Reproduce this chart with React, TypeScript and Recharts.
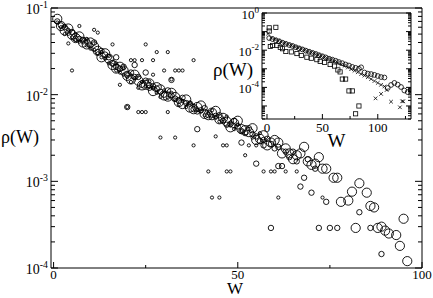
import React from 'react';
import { ScatterChart, Scatter, XAxis, YAxis, CartesianGrid } from 'recharts';

const FONT = 'Liberation Serif, Times New Roman, Times, serif';

// ---------- main chart ticks ----------
const mainXTicks = [0, 25, 50, 75, 100];
const mainXLabels = [0, 50, 100];
const mainYDecades = [-4, -3, -2, -1];

// ---------- inset ticks ----------
const insetXTicks = [0, 25, 50, 75, 100, 125];
const insetXLabels = [0, 50, 100];
const insetYDecades = [-6, -5, -4, -3, -2, -1, 0];
const insetYLabels = [0, -2, -4];

// ---------- main data: [W, rho] ----------
const smallPts: [number, number][] = [
  [1, 0.068], [2, 0.06], [3, 0.05], [4, 0.056], [5, 0.046], [6, 0.05], [7, 0.041], [8, 0.04],
  [9, 0.044], [10, 0.034], [11, 0.033], [12, 0.03], [13, 0.031], [14, 0.026], [15, 0.023],
  [16, 0.022], [17, 0.023], [18, 0.018], [19, 0.017], [20, 0.016], [22, 0.0155], [23, 0.012],
  [25, 0.0125], [26, 0.0142], [28, 0.0105], [30, 0.0112], [31, 0.0092], [33, 0.0088],
  [35, 0.0084], [36, 0.0072], [38, 0.0075], [40, 0.0064], [42, 0.0061], [44, 0.0054],
  [46, 0.0052], [48, 0.0044], [50, 0.0045],
  [3, 0.062], [6, 0.043], [9, 0.037], [13, 0.027], [15, 0.028], [17, 0.019], [19, 0.02],
  [21, 0.014], [24, 0.014], [27, 0.0118], [29, 0.0094], [32, 0.0105], [34, 0.0077],
  [37, 0.008], [39, 0.0068], [41, 0.0058], [43, 0.0066], [45, 0.0049], [47, 0.0056],
  [49, 0.004], [51, 0.0038], [54, 0.0032], [56, 0.0036],
  [4, 0.039], [5, 0.019], [7, 0.062], [11, 0.056], [12, 0.052], [16, 0.038], [21, 0.025],
  [22, 0.025], [24, 0.025], [27, 0.025], [25, 0.038], [28, 0.031], [31, 0.031], [38, 0.025],
  [18, 0.013], [20, 0.0072], [23, 0.0063], [24, 0.0063], [25, 0.0063], [31, 0.0063],
  [27, 0.017], [32, 0.015], [30, 0.019], [33, 0.019], [34, 0.019], [35, 0.019],
  [29, 0.0032], [33, 0.0032], [38, 0.0026], [42, 0.0013], [43, 0.00065], [45, 0.00065],
  [44, 0.0033], [47, 0.0026], [46, 0.0026], [47, 0.0013], [48, 0.0013], [52, 0.002],
  [53, 0.0026], [55, 0.0026], [57, 0.0013], [59, 0.0013], [60, 0.0013], [61, 0.00065],
  [63, 0.0013], [66, 0.0013], [73, 0.00065],
];

const mediumPts: [number, number][] = [
  [2, 0.063], [4, 0.052], [6, 0.044], [8, 0.043], [10, 0.037], [12, 0.031], [14, 0.029],
  [16, 0.023], [18, 0.02], [20, 0.017], [22, 0.016], [24, 0.013], [26, 0.0128], [28, 0.0118],
  [30, 0.01], [32, 0.0098], [34, 0.0085], [36, 0.008], [38, 0.0068], [40, 0.0066],
  [42, 0.0058], [44, 0.0057], [46, 0.005], [48, 0.0046], [50, 0.0043], [52, 0.0036],
  [54, 0.0035], [56, 0.0029], [58, 0.0031], [60, 0.0024], [63, 0.0022], [66, 0.0017],
  [1, 0.07], [3, 0.06], [5, 0.053], [7, 0.044], [9, 0.042], [11, 0.04], [13, 0.032],
  [15, 0.027], [17, 0.021], [19, 0.021], [21, 0.018], [23, 0.016], [25, 0.0145],
  [27, 0.0125], [29, 0.0108], [31, 0.0112], [33, 0.009], [35, 0.0092], [37, 0.0079],
  [39, 0.0064], [41, 0.007], [43, 0.0055], [45, 0.0058], [47, 0.0045], [49, 0.005],
  [51, 0.0038], [53, 0.0041], [55, 0.0033], [57, 0.003], [59, 0.0027], [61, 0.0025],
  [64, 0.0019], [65, 0.0022], [69, 0.0018], [71, 0.0014],
  [17, 0.027], [22, 0.022], [20, 0.0072], [32, 0.0148], [39, 0.004], [51, 0.0028],
  [55, 0.0016], [57, 0.0026], [59, 0.00029], [61, 0.0015], [62, 0.0015], [67, 0.00087],
  [68, 0.0011], [70, 0.00074], [72, 0.00029], [74, 0.00058], [75, 0.00029], [77, 0.00029],
  [83, 0.00044], [86, 0.00029], [89, 0.000145], [25, 0.018], [26, 0.012],
];

const largePts: [number, number][] = [
  [1, 0.075], [3, 0.055], [5, 0.049], [7, 0.047], [9, 0.038], [11, 0.036], [13, 0.027],
  [15, 0.026], [17, 0.02], [19, 0.019], [21, 0.015], [23, 0.0145], [25, 0.013], [27, 0.011],
  [29, 0.0115], [31, 0.0095], [33, 0.0094], [35, 0.0078], [37, 0.0071], [39, 0.0072],
  [41, 0.006], [43, 0.0062], [45, 0.0052], [47, 0.0049], [49, 0.0047], [51, 0.004],
  [53, 0.0037], [55, 0.003], [57, 0.0034],
  [2, 0.062], [4, 0.058], [6, 0.045], [8, 0.04], [10, 0.04], [12, 0.032], [14, 0.03],
  [16, 0.022], [18, 0.021], [20, 0.0165], [22, 0.017], [24, 0.0128], [26, 0.0135],
  [28, 0.0122], [30, 0.0098], [32, 0.0105], [34, 0.0082], [36, 0.0088], [38, 0.0068],
  [40, 0.0075], [42, 0.0058], [44, 0.0065], [46, 0.0054], [48, 0.0042], [50, 0.005],
  [52, 0.0039], [54, 0.0041], [56, 0.0031], [58, 0.0026], [60, 0.003], [63, 0.0024],
  [67, 0.0021], [71, 0.0016],
  [59, 0.0028], [61, 0.0028], [62, 0.0021], [64, 0.0021], [65, 0.0018], [66, 0.002],
  [68, 0.0025], [69, 0.0017], [70, 0.00155], [72, 0.0019], [73, 0.0014], [74, 0.0014],
  [76, 0.0011], [77, 0.0011], [78, 0.00058], [80, 0.0006], [81, 0.00076], [82, 0.00029],
  [83, 0.00095], [85, 0.00074], [86, 0.00052], [87, 0.0005], [88, 0.00029], [89, 0.0003],
  [90, 0.00027], [91, 0.00025], [93, 0.00024], [94, 0.00018], [95, 0.00037], [96, 0.00012],
];

// ---------- inset data: [W, rho] ----------
const insetCircles: [number, number][] = [
  [2, 0.0447], [5, 0.0398], [8, 0.0339], [11, 0.0302], [14, 0.0251], [17, 0.0219],
  [20, 0.0191], [23, 0.017], [26, 0.0145], [29, 0.0126], [32, 0.011], [35, 0.0095],
  [38, 0.0083], [41, 0.0072], [44, 0.0063], [47, 0.0054], [50, 0.0047], [53, 0.0041],
  [56, 0.0035], [59, 0.0031], [62, 0.0027], [65, 0.0023], [68, 0.002], [71, 0.0017],
  [74, 0.0015], [77, 0.00126], [80, 0.00112], [83, 0.001], [85, 0.0012], [88, 0.00063],
  [91, 0.00055], [94, 0.00052], [97, 0.00047], [100, 0.00041], [103, 0.00036],
  [106, 0.00034], [109, 0.000093], [112, 0.000135], [115, 0.000174], [118, 0.000141],
  [121, 0.000105], [124, 0.000068], [127, 0.000056], [130, 0.000072],
];

const insetCrosses: [number, number][] = [
  [1, 0.078], [4, 0.045], [7, 0.038], [10, 0.0316], [13, 0.0275], [16, 0.0234],
  [19, 0.0204], [22, 0.0178], [25, 0.0151], [28, 0.0132], [31, 0.0115], [34, 0.01],
  [37, 0.0085], [40, 0.0074], [43, 0.0065], [46, 0.0055], [49, 0.0048], [52, 0.0041],
  [55, 0.0035], [58, 0.003], [61, 0.0025], [64, 0.0021], [67, 0.0017], [70, 0.00145],
  [73, 0.00117], [76, 0.00095], [79, 0.00079], [82, 0.00065], [85, 0.00052], [88, 0.00043],
  [91, 0.00035], [94, 0.00028], [97, 0.00022], [100, 0.000174], [103, 0.000138],
  [106, 0.000112], [98, 0.0000257], [103, 0.0000447], [108, 0.0000724], [112, 0.000017],
  [120, 0.0000085], [122, 0.0000178], [123, 0.0000178],
];

const insetSquares: [number, number][] = [
  [2, 0.16], [2, 0.107], [8, 0.17], [3, 0.0158], [5, 0.018], [9, 0.018], [12, 0.0141],
  [14, 0.012], [17, 0.0085], [22, 0.0081], [27, 0.0066], [31, 0.0052], [36, 0.0042],
  [40, 0.0037], [45, 0.0031], [48, 0.0025], [52, 0.0022], [57, 0.0017], [61, 0.0014],
  [64, 0.00087], [66, 0.00068], [68, 0.00028], [71, 0.00028], [74, 0.0000646],
  [77, 0.0000646], [80, 0.0000038], [83, 0.00001],
];

const toData = (pts: [number, number][]) => pts.map(([w, rho]) => ({ w, rho }));

const logTicks = (decades: number[], min: number, max: number) => {
  const out: number[] = [];
  decades.forEach((d) => {
    for (let m = 1; m <= 9; m++) {
      const v = m * Math.pow(10, d);
      if (v >= min * 0.999 && v <= max * 1.001) out.push(v);
    }
  });
  return out;
};

const isDecade = (v: number) => {
  const l = Math.log10(v);
  return Math.abs(l - Math.round(l)) < 1e-6;
};

const MAIN_YMIN = 1e-4;
const MAIN_YMAX = 1e-1;
const INSET_YMIN = Math.pow(10, -5.7);
const INSET_YMAX = 1;

const mainYTicks = logTicks(mainYDecades, MAIN_YMIN, MAIN_YMAX);
const insetYTicks = logTicks(insetYDecades, INSET_YMIN, INSET_YMAX);

const STROKE = '#000';

// ---------- tick renderers ----------
const makeXTick = (labels: number[], side: 'bottom' | 'top', fs: number, maj: number, min: number, dyLabel: number) =>
  (props: any) => {
    const { x, y, payload } = props;
    const v = payload.value;
    const major = labels.includes(v);
    const len = major ? maj : min;
    const y2 = side === 'bottom' ? y - len : y + len;
    return (
      <g>
        <line x1={x} y1={y} x2={x} y2={y2} stroke={STROKE} strokeWidth={1} />
        {side === 'bottom' && major && (
          <text x={x} y={y + dyLabel} textAnchor="middle" fontFamily={FONT} style={{ fontFamily: FONT }} fontSize={fs} fill="#000">
            {v}
          </text>
        )}
      </g>
    );
  };

const makeYTick = (labels: number[] | null, side: 'left' | 'right', fs: number, maj: number, min: number) =>
  (props: any) => {
    const { x, y, payload } = props;
    const v = payload.value;
    const major = isDecade(v);
    const len = major ? maj : min;
    const x2 = side === 'left' ? x + len : x - len;
    const exp = Math.round(Math.log10(v));
    const showLabel = side === 'left' && major && (labels === null || labels.includes(exp));
    return (
      <g>
        <line x1={x} y1={y} x2={x2} y2={y} stroke={STROKE} strokeWidth={1} />
        {showLabel && (
          <text x={x - 3} y={y + 6} textAnchor="end" fontFamily={FONT} style={{ fontFamily: FONT }} fontSize={fs} fill="#000">
            <tspan>10</tspan>
            <tspan dy={-6} fontSize={fs * 0.7}>{String(exp)}</tspan>
          </text>
        )}
      </g>
    );
  };

const circleShape = (r: number, sw: number) => (props: any) => (
  <circle cx={props.cx} cy={props.cy} r={r} fill="none" stroke={STROKE} strokeWidth={sw} />
);

const squareShape = (s: number) => (props: any) => (
  <rect x={props.cx - s / 2} y={props.cy - s / 2} width={s} height={s} fill="none" stroke={STROKE} strokeWidth={0.8} />
);

const crossShape = (s: number) => (props: any) => (
  <path
    d={`M${props.cx - s / 2},${props.cy - s / 2}L${props.cx + s / 2},${props.cy + s / 2}M${props.cx - s / 2},${props.cy + s / 2}L${props.cx + s / 2},${props.cy - s / 2}`}
    fill="none"
    stroke={STROKE}
    strokeWidth={0.8}
  />
);

const axisCommon = {
  tickLine: false,
  tickSize: 0,
  tickMargin: 0,
  interval: 0 as const,
  axisLine: { stroke: STROKE, strokeWidth: 1 },
  allowDataOverflow: true,
};

function MainChart() {
  const xDomain: [number, number] = [-0.7, 100];
  const yDomain: [number, number] = [MAIN_YMIN, MAIN_YMAX];
  return (
    <ScatterChart width={433} height={298} margin={{ top: 0, right: 0, bottom: 0, left: 0 }}>
      <XAxis
        {...axisCommon}
        xAxisId={0}
        dataKey="w"
        type="number"
        domain={xDomain}
        ticks={mainXTicks}
        height={30}
        orientation="bottom"
        tick={makeXTick(mainXLabels, 'bottom', 13, 6, 3, 11)}
      />
      <XAxis
        {...axisCommon}
        xAxisId="top"
        type="number"
        domain={xDomain}
        ticks={mainXTicks}
        height={8}
        orientation="top"
        tick={makeXTick(mainXLabels, 'top', 13, 6, 3, 11)}
      />
      <YAxis
        {...axisCommon}
        yAxisId={0}
        dataKey="rho"
        type="number"
        scale="log"
        domain={yDomain}
        ticks={mainYTicks}
        width={51}
        orientation="left"
        tick={makeYTick(null, 'left', 14, 7, 4)}
      />
      <YAxis
        {...axisCommon}
        yAxisId="right"
        type="number"
        scale="log"
        domain={yDomain}
        ticks={mainYTicks}
        width={11}
        orientation="right"
        tick={makeYTick(null, 'right', 14, 7, 4)}
      />
      <Scatter data={toData(smallPts)} shape={circleShape(1.6, 0.9)} isAnimationActive={false} />
      <Scatter data={toData(mediumPts)} shape={circleShape(2.7, 0.9)} isAnimationActive={false} />
      <Scatter data={toData(largePts)} shape={circleShape(4.6, 0.9)} isAnimationActive={false} />
      <text x={20} y={143} textAnchor="middle" fontFamily={FONT} style={{ fontFamily: FONT }} fontSize={18} fill="#000">ρ(W)</text>
      <text x={235} y={294} textAnchor="middle" fontFamily={FONT} style={{ fontFamily: FONT }} fontSize={17} fill="#000">W</text>
    </ScatterChart>
  );
}

function InsetChart() {
  const xDomain: [number, number] = [-4.5, 130];
  const yDomain: [number, number] = [INSET_YMIN, INSET_YMAX];
  return (
    <ScatterChart width={233} height={155} margin={{ top: 0, right: 0, bottom: 0, left: 0 }}>
      <CartesianGrid fill="#fff" stroke="none" horizontal={false} vertical={false} />
      <XAxis
        {...axisCommon}
        xAxisId={0}
        dataKey="w"
        type="number"
        domain={xDomain}
        ticks={insetXTicks}
        height={36}
        orientation="bottom"
        tick={makeXTick(insetXLabels, 'bottom', 13, 5, 3, 13)}
      />
      <XAxis
        {...axisCommon}
        xAxisId="top"
        type="number"
        domain={xDomain}
        ticks={insetXTicks}
        height={13}
        orientation="top"
        tick={makeXTick(insetXLabels, 'top', 13, 5, 3, 13)}
      />
      <YAxis
        {...axisCommon}
        yAxisId={0}
        dataKey="rho"
        type="number"
        scale="log"
        domain={yDomain}
        ticks={insetYTicks}
        width={62}
        orientation="left"
        tick={makeYTick(insetYLabels, 'left', 13, 5, 3)}
      />
      <YAxis
        {...axisCommon}
        yAxisId="right"
        type="number"
        scale="log"
        domain={yDomain}
        ticks={insetYTicks}
        width={22}
        orientation="right"
        tick={makeYTick(insetYLabels, 'right', 13, 5, 3)}
      />
      <Scatter data={toData(insetSquares)} shape={squareShape(4.2)} isAnimationActive={false} />
      <Scatter data={toData(insetCrosses)} shape={crossShape(3.6)} isAnimationActive={false} />
      <Scatter data={toData(insetCircles)} shape={circleShape(2.4, 0.8)} isAnimationActive={false} />
      <text x={33} y={76} textAnchor="middle" fontFamily={FONT} style={{ fontFamily: FONT }} fontSize={19} fill="#000">ρ(W)</text>
      <text x={136.5} y={147} textAnchor="middle" fontFamily={FONT} style={{ fontFamily: FONT }} fontSize={19} fill="#000">W</text>
    </ScatterChart>
  );
}

export default function App() {
  return (
    <div style={{ position: 'absolute', left: 0, top: 0, width: 433, height: 298, background: '#fff', overflow: 'hidden', fontFamily: FONT }}>
      <div style={{ position: 'absolute', left: 0, top: 0 }}>
        <MainChart />
      </div>
      <div style={{ position: 'absolute', left: 200, top: 0 }}>
        <InsetChart />
      </div>
    </div>
  );
}
